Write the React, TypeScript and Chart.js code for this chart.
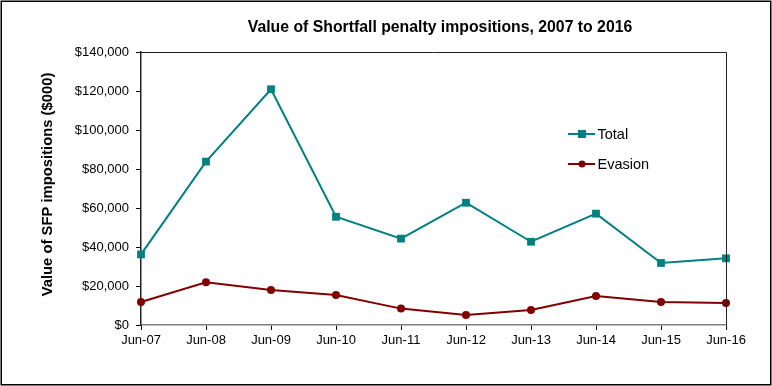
import React, { useEffect, useRef } from "react";
import { Chart, registerables } from "chart.js";

Chart.register(...registerables);

const categories = ["Jun-07", "Jun-08", "Jun-09", "Jun-10", "Jun-11", "Jun-12", "Jun-13", "Jun-14", "Jun-15", "Jun-16"];
const totalValues = [36200, 83800, 120900, 55500, 44300, 62700, 42700, 57100, 31800, 34200];
const evasionValues = [11800, 21900, 18000, 15400, 8400, 5100, 7700, 14900, 11800, 11300];
const seriesNames = ["Total", "Evasion"];
const titleText = "Value of Shortfall penalty impositions, 2007 to 2016";
const yTitleText = "Value of SFP impositions ($000)";
const yMin = 0;
const yMax = 140000;
const yStep = 20000;

const TEAL = "#008080";
const MAROON = "#800000";
const FONT = "'Liberation Sans', Arial, sans-serif";

const decorPlugin = {
  id: "decor",
  afterDraw(chart: any) {
    const { ctx, chartArea } = chart;
    const { left, right, top, bottom } = chartArea;
    ctx.save();
    // outer border
    ctx.strokeStyle = "#000";
    ctx.lineWidth = 1.5;
    ctx.strokeRect(1.25, 1.25, chart.width - 2.5, chart.height - 2.5);
    // plot top & right border
    ctx.lineWidth = 1;
    ctx.strokeStyle = "#222";
    ctx.beginPath();
    ctx.moveTo(left, top + 0.5);
    ctx.lineTo(right + 0.5, top + 0.5);
    ctx.lineTo(right + 0.5, bottom);
    ctx.stroke();
    // title
    ctx.fillStyle = "#000";
    ctx.font = `bold 15.8px ${FONT}`;
    ctx.textAlign = "center";
    ctx.textBaseline = "middle";
    ctx.fillText(titleText, 440, 28);
    // y title
    ctx.save();
    ctx.translate(47.5, (top + bottom) / 2 - 4);
    ctx.rotate(-Math.PI / 2);
    ctx.font = `bold 14.8px ${FONT}`;
    ctx.fillText(yTitleText, 0, 0);
    ctx.restore();
    // legend
    const items = [
      { name: seriesNames[0], color: TEAL, y: 134, style: "rect" },
      { name: seriesNames[1], color: MAROON, y: 164, style: "circle" },
    ];
    ctx.textAlign = "left";
    ctx.font = `14.5px ${FONT}`;
    for (const it of items) {
      ctx.strokeStyle = it.color;
      ctx.lineWidth = 2;
      ctx.beginPath();
      ctx.moveTo(568, it.y);
      ctx.lineTo(595, it.y);
      ctx.stroke();
      ctx.fillStyle = it.color;
      if (it.style === "rect") {
        ctx.fillRect(578, it.y - 4, 8, 8);
      } else {
        ctx.beginPath();
        ctx.arc(582, it.y, 3.5, 0, Math.PI * 2);
        ctx.fill();
      }
      ctx.fillStyle = "#000";
      ctx.fillText(it.name, 597.5, it.y + 0.5);
    }
    ctx.restore();
  },
};

export default function App() {
  const ref = useRef<HTMLCanvasElement>(null);
  useEffect(() => {
    document.body.style.margin = "0";
    document.body.style.overflow = "hidden";
    const chart = new Chart(ref.current!, {
      type: "line",
      data: {
        labels: categories,
        datasets: [
          {
            label: seriesNames[0],
            data: totalValues,
            borderColor: TEAL,
            backgroundColor: TEAL,
            borderWidth: 2,
            pointStyle: "rect",
            pointRadius: 5.5,
            pointBorderWidth: 0,
            tension: 0,
            clip: false as any,
          },
          {
            label: seriesNames[1],
            data: evasionValues,
            borderColor: MAROON,
            backgroundColor: MAROON,
            borderWidth: 2,
            pointStyle: "circle",
            pointRadius: 4,
            pointBorderWidth: 0,
            tension: 0,
            clip: false as any,
          },
        ],
      },
      options: {
        responsive: false,
        animation: false,
        layout: { padding: { top: 52, right: 46, left: 0, bottom: 0 } },
        plugins: {
          legend: { display: false },
          title: { display: false },
          tooltip: { enabled: false },
        },
        scales: {
          x: {
            type: "category",
            offset: false,
            grid: { drawOnChartArea: false, drawTicks: true, tickLength: 5, color: "#000" },
            border: { color: "#808080", width: 1.5 },
            ticks: { color: "#000", font: { family: FONT, size: 13 }, padding: 3, maxRotation: 0, autoSkip: false },
            afterFit(scale: any) {
              scale.height = 61;
            },
          },
          y: {
            min: yMin,
            max: yMax,
            grid: { drawOnChartArea: false, drawTicks: true, tickLength: 5, color: "#000" },
            border: { color: "#222", width: 1.5 },
            ticks: {
              stepSize: yStep,
              color: "#000",
              font: { family: FONT, size: 13 },
              padding: 7,
              callback: (v: any) => "$" + Number(v).toLocaleString("en-US"),
            },
            afterFit(scale: any) {
              scale.width = 141;
            },
          },
        },
      },
      plugins: [decorPlugin],
    });
    return () => chart.destroy();
  }, []);
  return <canvas ref={ref} width={772} height={386} style={{ display: "block" }} />;
}
